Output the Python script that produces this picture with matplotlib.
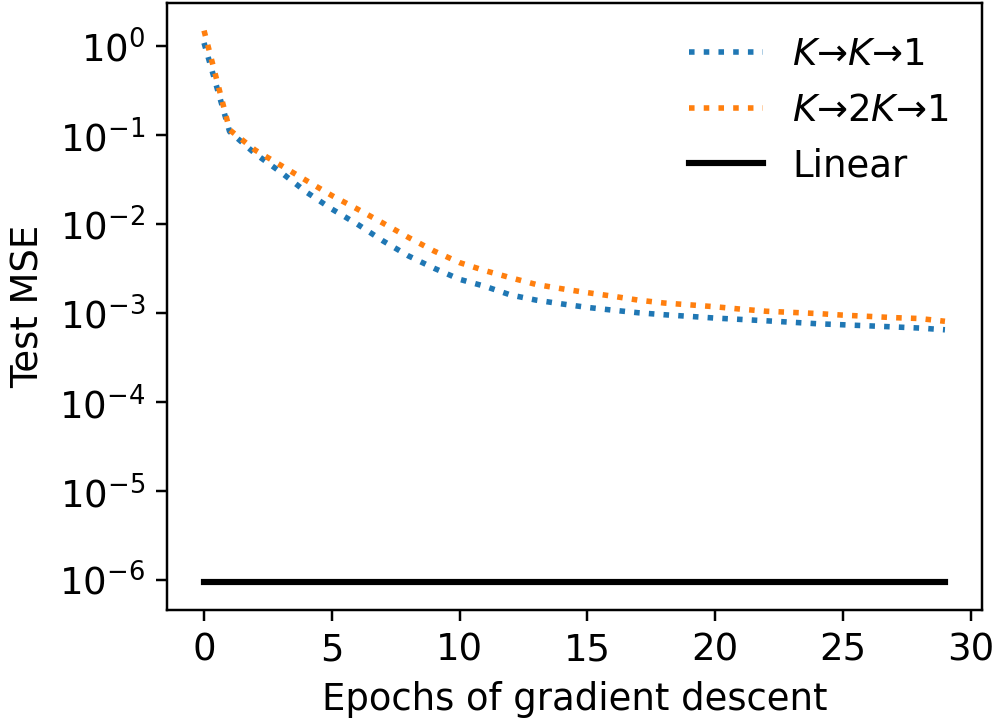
import matplotlib
matplotlib.use("Agg")
import matplotlib.pyplot as plt
import numpy as np

epochs = list(range(30))
mse_k_k_1 = [1.09, 0.11, 0.062, 0.0385, 0.023, 0.0148, 0.0100, 0.0065, 0.0044, 0.0032,
             0.0024, 0.0020, 0.0016, 0.0014, 0.00127, 0.00116, 0.00108, 0.00101, 0.00096, 0.00092,
             0.00088, 0.00085, 0.00082, 0.00079, 0.00076, 0.00074, 0.00072, 0.00070, 0.00068, 0.00065]
mse_k_2k_1 = [1.5, 0.115, 0.068, 0.046, 0.031, 0.021, 0.0148, 0.0103, 0.0071, 0.0050,
              0.0037, 0.0030, 0.0025, 0.0021, 0.00188, 0.0017, 0.00155, 0.0014, 0.0013, 0.00124,
              0.00118, 0.00111, 0.00105, 0.00102, 0.00099, 0.00095, 0.00092, 0.00089, 0.00087, 0.00081]
mse_linear = [9.4e-7] * 30
labels = [r"$K$→$K$→1", r"$K$→2$K$→1", "Linear"]

DPI = 996 / 4.48
plt.rcParams['font.size'] = 12
fig = plt.figure(figsize=(4.48, 725 / DPI), dpi=DPI)
ax = fig.add_axes([167/996, 1 - 610/725, (982 - 167)/996, (610 - 3)/725])
ax.plot(epochs, mse_k_k_1, ':', color='#1f77b4', lw=1.8, label=labels[0])
ax.plot(epochs, mse_k_2k_1, ':', color='#ff7f0e', lw=1.8, label=labels[1])
ax.plot(epochs, mse_linear, '-', color='black', lw=2, label=labels[2])
ax.set_yscale('log')
ax.yaxis.set_minor_locator(matplotlib.ticker.NullLocator())
ax.set_xticks([0, 5, 10, 15, 20, 25, 30])
ax.set_xlabel("Epochs of gradient descent")
ax.set_ylabel("Test MSE")
ax.legend(loc='upper right', frameon=False)
fig.savefig("out.png", dpi=DPI)
